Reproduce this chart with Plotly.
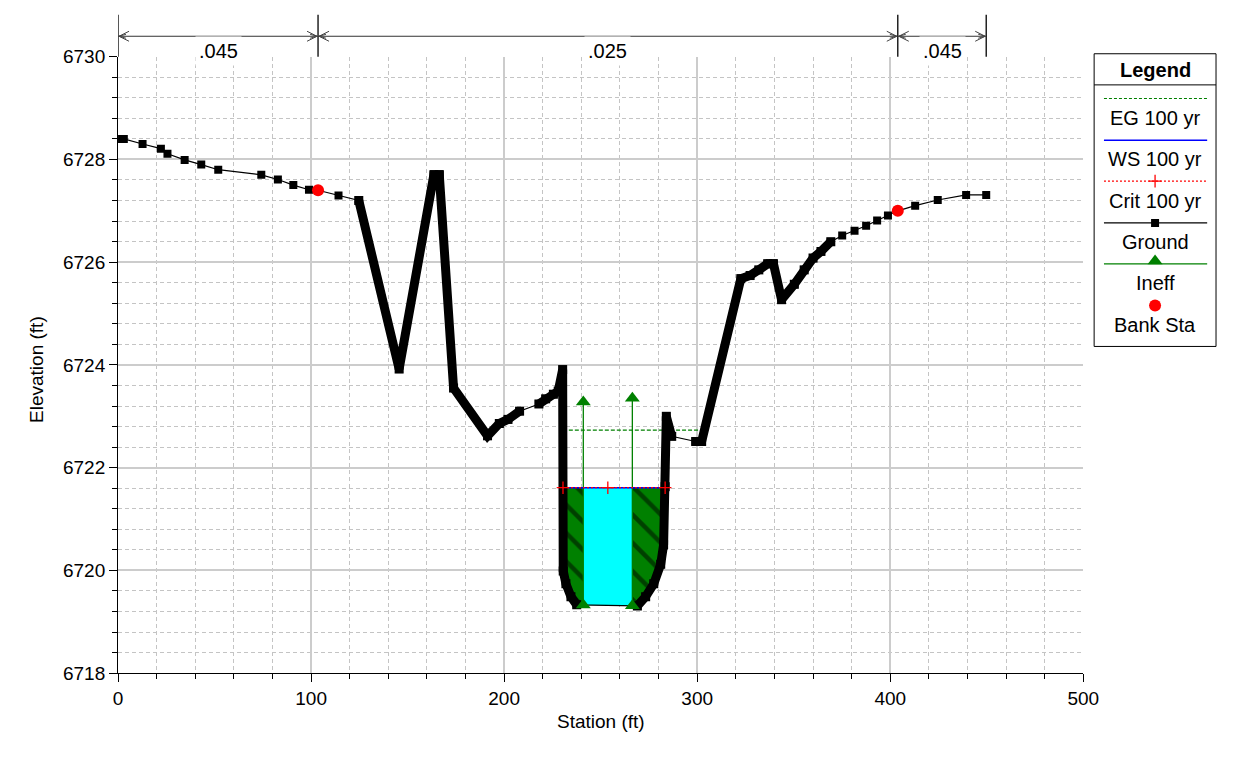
import numpy as np
import plotly.graph_objects as go

W, H = 1233, 761
FONT = "Liberation Sans, Arial, sans-serif"

# ---- cross-section survey (station ft, elevation ft) ----
station = [0.0, 3.0, 12.7, 22.2, 25.6, 34.5, 43.1, 51.9, 74.2, 82.8, 90.8, 98.9,
           103.6, 114.2, 124.7, 145.6, 163.6, 166.4, 173.8, 191.4, 197.5, 202.0,
           208.0, 218.0, 221.5, 225.5, 228.0, 230.3, 230.6, 232.0, 234.6, 237.6,
           269.0, 273.3, 277.5, 281.1, 282.6, 283.4, 284.0, 286.8, 299.2, 302.3,
           322.6, 327.4, 331.9, 336.5, 339.5, 343.7, 350.3, 355.4, 360.0, 364.1,
           369.2, 375.1, 381.5, 387.5, 393.2, 398.8, 403.9, 412.9, 424.6, 439.3,
           449.7]
elevation = [6728.40, 6728.40, 6728.30, 6728.21, 6728.11, 6727.99, 6727.90, 6727.80,
             6727.70, 6727.61, 6727.50, 6727.41, 6727.40, 6727.30, 6727.20, 6723.92,
             6727.70, 6727.70, 6723.55, 6722.62, 6722.86, 6722.94, 6723.10, 6723.24,
             6723.34, 6723.43, 6723.49, 6723.91, 6719.99, 6719.74, 6719.49, 6719.33,
             6719.31, 6719.49, 6719.74, 6720.12, 6720.50, 6721.63, 6723.00, 6722.61,
             6722.51, 6722.51, 6725.68, 6725.74, 6725.85, 6725.97, 6725.97, 6725.27,
             6725.57, 6725.85, 6726.08, 6726.21, 6726.40, 6726.52, 6726.61, 6726.71,
             6726.81, 6726.91, 6727.00, 6727.10, 6727.21, 6727.31, 6727.31]

bank_stations = [103.6, 403.9]
eg_elev = 6722.73
ws_elev = 6721.61
crit_elev = 6721.61
ineff_stations = [241.0, 266.4]
ineff_elevations = [6723.28, 6723.35]
mannings_n = [0.045, 0.025, 0.045]
# reaches surveyed at close spacing (drawn as a heavy band)
dense_reaches = [(124.7, 208.0), (218.0, 237.6), (269.0, 286.8), (299.2, 369.2)]
legend_labels = ["EG 100 yr", "WS 100 yr", "Crit 100 yr", "Ground", "Ineff", "Bank Sta"]

GREEN = "#008000"
sta = np.array(station)
z = np.array(elevation)


def ground_at(x):
    return float(np.interp(x, sta, z))


def wet_spans(level):
    spans, start = [], None
    for i in range(len(sta) - 1):
        x0, x1, z0, z1 = sta[i], sta[i + 1], z[i], z[i + 1]
        if z0 >= level > z1:
            start = x0 + (level - z0) * (x1 - x0) / (z1 - z0)
        elif z0 < level <= z1 and start is not None:
            end = x0 + (level - z0) * (x1 - x0) / (z1 - z0)
            spans.append((start, end))
            start = None
    return spans


def water_polygon(a, b, level):
    inner = [(s, e) for s, e in zip(station, elevation) if a < s < b][::-1]
    xs = [a, b, b] + [p[0] for p in inner] + [a, a]
    ys = [level, level, ground_at(b)] + [p[1] for p in inner] + [ground_at(a), level]
    return xs, ys


left_edge, right_edge = wet_spans(ws_elev)[0]

fig = go.Figure()

# ---- water area: ineffective (hatched) and effective (cyan) ----
for a, b, eff in [(left_edge, ineff_stations[0], False),
                  (ineff_stations[0], ineff_stations[1], True),
                  (ineff_stations[1], right_edge, False)]:
    xs, ys = water_polygon(a, b, ws_elev)
    if eff:
        fig.add_trace(go.Scatter(x=xs, y=ys, fill="toself", fillcolor="#00ffff",
                                 mode="lines", line=dict(width=0), hoverinfo="skip"))
    else:
        fig.add_trace(go.Scatter(x=xs, y=ys, fill="toself", fillcolor=GREEN,
                                 fillpattern=dict(shape="\\", fgcolor="black", bgcolor=GREEN,
                                                  size=20, solidity=0.22),
                                 mode="lines", line=dict(width=0), hoverinfo="skip"))

# ineffective flow limits
for s, e in zip(ineff_stations, ineff_elevations):
    fig.add_trace(go.Scatter(x=[s, s], y=[ground_at(s), e], mode="lines",
                             line=dict(color=GREEN, width=1.3), hoverinfo="skip"))

# energy grade
for a, b in wet_spans(eg_elev):
    fig.add_trace(go.Scatter(x=[a, b], y=[eg_elev, eg_elev], mode="lines",
                             line=dict(color=GREEN, width=1.2, dash="4px,2px")))

# water surface and critical depth
fig.add_trace(go.Scatter(x=[left_edge, right_edge], y=[ws_elev, ws_elev], mode="lines",
                         line=dict(color="#0000ff", width=1.5)))
fig.add_trace(go.Scatter(x=[left_edge, right_edge], y=[crit_elev, crit_elev], mode="lines",
                         line=dict(color="#ff0000", width=1.2, dash="2px,2px")))

# ground
fig.add_trace(go.Scatter(x=station, y=elevation, mode="lines+markers",
                         line=dict(color="black", width=1.2),
                         marker=dict(symbol="square", size=8, color="black")))
for a, b in dense_reaches:
    xs = [s for s in station if a <= s <= b]
    ys = [e for s, e in zip(station, elevation) if a <= s <= b]
    fig.add_trace(go.Scatter(x=xs, y=ys, mode="lines+markers",
                             line=dict(color="black", width=9),
                             marker=dict(symbol="square", size=9, color="black")))

crit_marks = [left_edge, sum(ineff_stations) / 2, right_edge]
fig.add_trace(go.Scatter(x=crit_marks, y=[crit_elev] * 3, mode="markers",
                         marker=dict(symbol="cross-thin", size=9,
                                     line=dict(color="#ff0000", width=1.3))))

# bank stations
fig.add_trace(go.Scatter(x=bank_stations, y=[ground_at(s) for s in bank_stations],
                         mode="markers", marker=dict(symbol="circle", size=12, color="#ff0000")))

# ineffective flow markers
tri_x, tri_y = [], []
for s, e in zip(ineff_stations, ineff_elevations):
    tri_x += [s, s]
    tri_y += [ground_at(s), e]
fig.add_trace(go.Scatter(x=tri_x, y=tri_y, mode="markers",
                         marker=dict(symbol="triangle-up", size=13, color=GREEN)))

# ---- legend panel (drawn on its own pixel-scaled axes) ----
LX0, LX1, LY0, LY1 = 1108, 1232, 45, 346
cx = (LX0 + LX1) / 2
sx = [1118, 1223]
fig.add_trace(go.Scatter(x=sx, y=[91, 91], xaxis="x2", yaxis="y2", mode="lines",
                         line=dict(color=GREEN, width=1.2, dash="3px,2px")))
fig.add_trace(go.Scatter(x=sx, y=[134, 134], xaxis="x2", yaxis="y2", mode="lines",
                         line=dict(color="#0000ff", width=1.5)))
fig.add_trace(go.Scatter(x=sx, y=[176, 176], xaxis="x2", yaxis="y2", mode="lines",
                         line=dict(color="#ff0000", width=1.2, dash="2px,2px")))
fig.add_trace(go.Scatter(x=[cx], y=[176], xaxis="x2", yaxis="y2", mode="markers",
                         marker=dict(symbol="cross-thin", size=9,
                                     line=dict(color="#ff0000", width=1.3))))
fig.add_trace(go.Scatter(x=sx, y=[219, 219], xaxis="x2", yaxis="y2", mode="lines",
                         line=dict(color="black", width=1.2)))
fig.add_trace(go.Scatter(x=[cx], y=[219], xaxis="x2", yaxis="y2", mode="markers",
                         marker=dict(symbol="square", size=8, color="black")))
fig.add_trace(go.Scatter(x=sx, y=[261, 261], xaxis="x2", yaxis="y2", mode="lines",
                         line=dict(color=GREEN, width=1.3)))
fig.add_trace(go.Scatter(x=[cx], y=[258], xaxis="x2", yaxis="y2", mode="markers",
                         marker=dict(symbol="triangle-up", size=13, color=GREEN)))
fig.add_trace(go.Scatter(x=[cx], y=[304], xaxis="x2", yaxis="y2", mode="markers",
                         marker=dict(symbol="circle", size=12, color="#ff0000")))

annotations = []
annotations.append(dict(x=cx, y=62, xref="x2", yref="y2", text="<b>Legend</b>",
                        showarrow=False, font=dict(size=20)))
for lab, yy in zip(legend_labels, [111, 153, 196, 239, 281, 324]):
    annotations.append(dict(x=cx, y=yy, xref="x2", yref="y2", text=lab,
                            showarrow=False, font=dict(size=20)))

shapes = [
    dict(type="rect", xref="paper", yref="paper", x0=LX0 / W, x1=LX1 / W,
         y0=1 - LY1 / H, y1=1 - LY0 / H, line=dict(color="black", width=1)),
    dict(type="line", xref="paper", yref="paper", x0=LX0 / W, x1=LX1 / W,
         y0=1 - 77 / H, y1=1 - 77 / H, line=dict(color="black", width=1)),
]

# ---- main plot geometry ----
PX0, PX1, PY0, PY1 = 115, 1097, 48, 682
x_dom = [PX0 / W, PX1 / W]
y_dom = [1 - PY1 / H, 1 - PY0 / H]

# ---- Manning's n bar along the top ----
bounds = [station[0], bank_stations[0], bank_stations[1], station[-1]]
y_arrow = 1 - 27 / H
y_tick_top = 1 - 5 / H
for b in bounds:
    shapes.append(dict(type="line", xref="x", yref="paper", x0=b, x1=b,
                       y0=y_dom[1], y1=y_tick_top, line=dict(color="black", width=1.3)))
for (a, b), n in zip(zip(bounds[:-1], bounds[1:]), mannings_n):
    shapes.append(dict(type="line", xref="x", yref="paper", x0=a, x1=b,
                       y0=y_arrow, y1=y_arrow, line=dict(color="#333333", width=1)))
    shapes.append(dict(type="path", xref="x", yref="paper", xsizemode="pixel",
                       ysizemode="pixel", xanchor=a, yanchor=y_arrow,
                       path="M 11,5 L 1,0 L 11,-5 M 8,2 L 1,0 L 8,-2",
                       line=dict(color="#444444", width=1)))
    shapes.append(dict(type="path", xref="x", yref="paper", xsizemode="pixel",
                       ysizemode="pixel", xanchor=b, yanchor=y_arrow,
                       path="M -11,5 L -1,0 L -11,-5 M -8,2 L -1,0 L -8,-2",
                       line=dict(color="#444444", width=1)))
    annotations.append(dict(x=(a + b) / 2, y=y_arrow, xref="x", yref="paper",
                            text=f"{n:.3f}".lstrip("0"), showarrow=False,
                            bgcolor="white", borderpad=3, font=dict(size=20)))

# axis titles
annotations.append(dict(x=(PX0 + PX1) / 2 / W, y=1 - 745 / H, xref="paper", yref="paper",
                        text="Station (ft)", showarrow=False, font=dict(size=19)))
annotations.append(dict(x=20 / W, y=1 - 370 / H, xref="paper", yref="paper",
                        text="Elevation (ft)", textangle=-90, showarrow=False,
                        font=dict(size=19)))

grid_major = dict(showgrid=True, gridcolor="#cccccc", gridwidth=1.5)
grid_minor_col = "#c4c4c4"

fig.update_layout(
    width=W, height=H, autosize=False,
    margin=dict(l=0, r=0, t=0, b=0),
    paper_bgcolor="white", plot_bgcolor="white",
    showlegend=False,
    font=dict(family=FONT, size=19, color="black"),
    xaxis=dict(domain=x_dom, range=[0, 500], tick0=0, dtick=100, ticks="outside",
               ticklen=8, tickcolor="black", showline=True, linecolor="black",
               linewidth=1, zeroline=False, **grid_major,
               minor=dict(dtick=20, ticks="outside", ticklen=5, tickcolor="black",
                          showgrid=True, gridcolor=grid_minor_col, griddash="4px,3px",
                          gridwidth=1),
               tickfont=dict(size=19)),
    yaxis=dict(domain=y_dom, range=[6718, 6730], tick0=6718, dtick=2, ticks="outside",
               ticklen=8, tickcolor="black", showline=True, linecolor="black",
               linewidth=1, zeroline=False, **grid_major,
               minor=dict(dtick=0.4, ticks="outside", ticklen=5, tickcolor="black",
                          showgrid=True, gridcolor=grid_minor_col, griddash="4px,3px",
                          gridwidth=1),
               tickfont=dict(size=19)),
    xaxis2=dict(domain=[LX0 / W, LX1 / W], range=[LX0, LX1], visible=False,
                anchor="y2"),
    yaxis2=dict(domain=[1 - LY1 / H, 1 - LY0 / H], range=[LY1, LY0], visible=False,
                anchor="x2"),
    shapes=shapes,
    annotations=annotations,
)

fig.write_html("out.html", config=dict(displayModeBar=False, responsive=False))
